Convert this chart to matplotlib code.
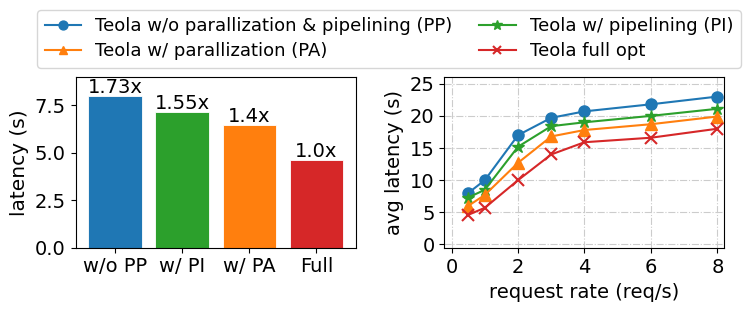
import matplotlib
matplotlib.use("Agg")
import matplotlib.pyplot as plt

# Bar chart data
bar_labels = ["w/o PP", "w/ PI", "w/ PA", "Full"]
bar_values = [7.98, 7.13, 6.47, 4.62]
bar_texts = ["1.73x", "1.55x", "1.4x", "1.0x"]
bar_colors = ["#1f77b4", "#2ca02c", "#ff7f0e", "#d62728"]

# Line chart data
rates = [0.5, 1, 2, 3, 4, 6, 8]
lat_pp = [8.0, 10.0, 17.0, 19.7, 20.7, 21.8, 23.0]
lat_pi = [7.3, 8.5, 15.2, 18.4, 19.0, 20.0, 21.1]
lat_pa = [6.0, 7.7, 12.7, 16.8, 17.8, 18.7, 19.9]
lat_full = [4.6, 5.7, 10.0, 14.0, 15.9, 16.6, 18.0]

fig = plt.figure(figsize=(7.48, 3.12), dpi=100)
W, H = 748, 312

def box(x0, y0, x1, y1):
    return [x0 / W, 1 - y1 / H, (x1 - x0) / W, (y1 - y0) / H]

ax1 = fig.add_axes(box(75.7, 76.7, 356, 247.7))
ax2 = fig.add_axes(box(444.3, 77.3, 724, 248.3))

x = list(range(len(bar_labels)))
bars = ax1.bar(x, bar_values, color=bar_colors, width=0.8, edgecolor="white", linewidth=0.6)
for b, t in zip(bars, bar_texts):
    ax1.text(b.get_x() + b.get_width() / 2, b.get_height() - 0.05, t,
             ha="center", va="bottom", fontsize=14)
ax1.set_xticks(x)
ax1.set_xticklabels(bar_labels)
ax1.set_ylim(0, 9)
ax1.set_yticks([0, 2.5, 5.0, 7.5])
ax1.set_ylabel("latency (s)", fontsize=14.5)
ax1.tick_params(labelsize=14)

ms = 8
l_pp, = ax2.plot(rates, lat_pp, marker="o", color="#1f77b4", markersize=ms, label="Teola w/o parallization & pipelining (PP)")
l_pi, = ax2.plot(rates, lat_pi, marker="*", color="#2ca02c", markersize=ms + 1, label="Teola w/ pipelining (PI)")
l_pa, = ax2.plot(rates, lat_pa, marker="^", color="#ff7f0e", markersize=ms, label="Teola w/ parallization (PA)")
l_full, = ax2.plot(rates, lat_full, marker="x", color="#d62728", markersize=ms, markeredgewidth=1.5, label="Teola full opt")
ax2.set_xlim(-0.22, 8.2)
ax2.set_ylim(-0.6, 26)
ax2.set_xticks([0, 2, 4, 6, 8])
ax2.set_yticks([0, 5, 10, 15, 20, 25])
ax2.grid(True, linestyle="-.", color="#cccccc", linewidth=0.8)
ax2.set_axisbelow(True)
ax2.set_xlabel("request rate (req/s)", fontsize=14)
ax2.set_ylabel("avg latency (s)", fontsize=14)
ax2.tick_params(labelsize=14)

fig.legend([l_pp, l_pa, l_pi, l_full],
           [l_pp.get_label(), l_pa.get_label(), l_pi.get_label(), l_full.get_label()],
           ncol=2, loc="upper center", bbox_to_anchor=(389 / W, 1 - 10 / H),
           borderaxespad=0, fontsize=13, markerscale=0.8, columnspacing=1.5,
           handletextpad=0.8, borderpad=0.4, labelspacing=0.4)

fig.savefig("out.png", dpi=100)
